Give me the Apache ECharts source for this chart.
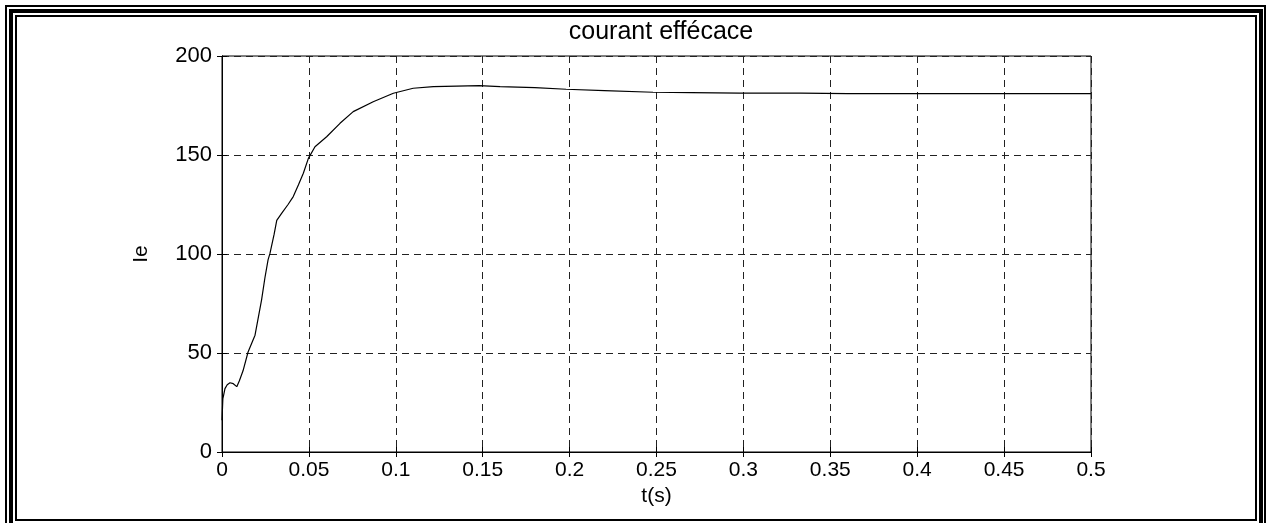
<!DOCTYPE html>
<html>
<head>
<meta charset="utf-8">
<script src="https://cdn.jsdelivr.net/npm/echarts@6/dist/echarts.min.js"></script>
<style>
  html, body { margin: 0; padding: 0; background: #fff; }
  #chart { width: 1269px; height: 523px; }
</style>
</head>
<body>
<div id="chart"></div>
<script>
// RMS current of the machine during start-up
const timeS = [0, 0.0002, 0.0005, 0.001, 0.0017, 0.003, 0.0046, 0.0065, 0.0085, 0.010,
  0.0121, 0.015, 0.019, 0.0228, 0.0247, 0.0265, 0.0276, 0.030, 0.0315, 0.0343,
  0.038, 0.041, 0.044, 0.0468, 0.0497, 0.0535, 0.0602, 0.0679, 0.0755, 0.087,
  0.0986, 0.11, 0.1216, 0.135, 0.148, 0.16, 0.18, 0.198, 0.22, 0.248,
  0.27, 0.298, 0.333, 0.36, 0.4, 0.45, 0.5];
const currentIe = [16, 16, 27, 29, 32, 34, 35, 34.5, 33, 36,
  41, 50.5, 59, 77, 88, 97, 100.3, 110, 117, 120.5,
  125, 129, 135, 140.8, 148.3, 154.2, 159.2, 166, 171.9, 176.9,
  181.2, 183.7, 184.5, 184.8, 185, 184.5, 184, 183.2, 182.5, 181.7,
  181.5, 181.2, 181.2, 181, 181, 181, 181];

const xTicks = [0, 0.05, 0.1, 0.15, 0.2, 0.25, 0.3, 0.35, 0.4, 0.45, 0.5];
const yTicks = [0, 50, 100, 150, 200];

const titleText = 'courant effécace';
const xName = 't(s)';
const yName = 'Ie';

const points = timeS.map((t, i) => [t, currentIe[i]]);

const font = '"Liberation Sans", Arial, sans-serif';
const gridLine = { show: true, lineStyle: { color: '#222', width: 1, type: [7, 5] } };

const chart = echarts.init(document.getElementById('chart'), null, { renderer: 'canvas' });

chart.setOption({
  animation: false,
  backgroundColor: '#fff',
  title: {
    text: titleText,
    left: 656, top: 15, textAlign: 'center',
    textStyle: { fontFamily: font, fontSize: 25, fontWeight: 'normal', color: '#000' }
  },
  grid: {
    left: 222, right: 178, top: 56, bottom: 71,
    show: true, borderColor: '#000', borderWidth: 1, backgroundColor: '#fff'
  },
  xAxis: [{
    type: 'value', min: 0, max: 0.5, interval: 0.05,
    name: xName, nameLocation: 'middle', nameGap: 31,
    nameTextStyle: { fontFamily: font, fontSize: 21, color: '#000' },
    axisLine: { show: true, lineStyle: { color: '#000', width: 1 } },
    axisTick: { show: true, inside: true, length: 5, lineStyle: { color: '#000' } },
    axisLabel: {
      fontFamily: font, fontSize: 21, color: '#000', margin: 8,
      formatter: v => {
        const k = xTicks.find(t => Math.abs(t - v) < 1e-9);
        return k === undefined ? '' : String(k);
      }
    },
    splitLine: gridLine
  }, {
    type: 'value', min: 0, max: 0.5, interval: 0.05, position: 'top',
    axisLine: { show: true, lineStyle: { color: '#000' } },
    axisTick: { show: true, inside: true, length: 5, lineStyle: { color: '#000' } },
    axisLabel: { show: false }, splitLine: { show: false }
  }],
  yAxis: [{
    type: 'value', min: 0, max: 200, interval: 50,
    name: yName, nameLocation: 'middle', nameGap: 70, nameRotate: 90,
    nameTextStyle: { fontFamily: font, fontSize: 21, color: '#000' },
    axisLine: { show: true, lineStyle: { color: '#000', width: 1 } },
    axisTick: { show: true, inside: true, length: 5, lineStyle: { color: '#000' } },
    axisLabel: {
      fontFamily: font, fontSize: 22, color: '#000', margin: 10,
      formatter: v => (yTicks.includes(v) ? String(v) : '')
    },
    splitLine: gridLine
  }, {
    type: 'value', min: 0, max: 200, interval: 50, position: 'right',
    axisLine: { show: true, lineStyle: { color: '#000' } },
    axisTick: { show: true, inside: true, length: 5, lineStyle: { color: '#000' } },
    axisLabel: { show: false }, splitLine: { show: false }
  }],
  series: [{
    type: 'line',
    data: points,
    xAxisIndex: 0, yAxisIndex: 0,
    showSymbol: false,
    lineStyle: { color: '#000', width: 1.2 },
    z: 5
  }],
  // triple-line page frame
  graphic: [
    { type: 'rect', shape: { x: 6, y: 6, width: 1259, height: 540 }, style: { fill: 'none', stroke: '#000', lineWidth: 2 }, silent: true },
    { type: 'rect', shape: { x: 11, y: 11, width: 1250, height: 530 }, style: { fill: 'none', stroke: '#000', lineWidth: 4 }, silent: true },
    { type: 'rect', shape: { x: 16, y: 16, width: 1240, height: 504 }, style: { fill: 'none', stroke: '#000', lineWidth: 2 }, silent: true }
  ]
});
</script>
</body>
</html>
